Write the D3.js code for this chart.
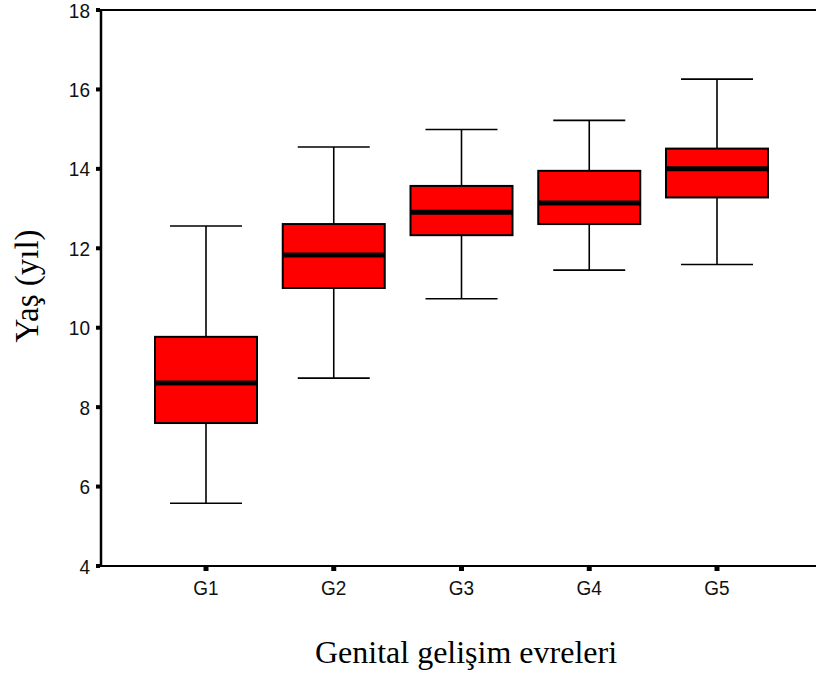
<!DOCTYPE html>
<html><head><meta charset="utf-8">
<script src="https://cdn.jsdelivr.net/npm/d3@7"></script>
<style>body{margin:0;background:#fff}svg{display:block}</style>
</head><body>
<script>
const categories = ["G1","G2","G3","G4","G5"];
const whiskerLow  = [5.58, 8.73, 10.73, 11.45, 11.59];
const q1          = [7.60, 11.00, 12.33, 12.61, 13.28];
const median      = [8.61, 11.83, 12.91, 13.14, 14.00];
const q3          = [9.77, 12.61, 13.57, 13.95, 14.51];
const whiskerHigh = [12.56, 14.55, 14.99, 15.22, 16.26];
const yTicks = [4, 6, 8, 10, 12, 14, 16, 18];

(function () {
const W = 816, H = 685;
const pLeft = 101, pRight = 816, pTop = 10, pBottom = 566;
const svg = d3.select("body").append("svg").attr("width", W).attr("height", H);

const y = d3.scaleLinear().domain([4, 18]).range([pBottom, pTop]);
const x = d3.scalePoint().domain(categories).range([206, 717]);

const data = categories.map((c, i) => ({c, lo: whiskerLow[i], q1: q1[i], med: median[i], q3: q3[i], hi: whiskerHigh[i]}));

// frame lines
svg.append("line").attr("x1", pLeft).attr("x2", pRight).attr("y1", pTop).attr("y2", pTop)
  .attr("stroke", "#000").attr("stroke-width", 1.8);
svg.append("line").attr("x1", pLeft).attr("x2", pLeft).attr("y1", pTop - 1).attr("y2", pBottom + 1)
  .attr("stroke", "#000").attr("stroke-width", 2.5);
svg.append("line").attr("x1", pLeft).attr("x2", pRight).attr("y1", pBottom).attr("y2", pBottom)
  .attr("stroke", "#000").attr("stroke-width", 2);

const tickFont = "Liberation Sans, Arial, sans-serif";
// y ticks
const yAx = svg.append("g");
yTicks.forEach(t => {
  yAx.append("rect").attr("x", pLeft - 5).attr("y", y(t) - 2).attr("width", 4).attr("height", 4).attr("fill", "#000");
  yAx.append("text").attr("transform", `translate(90,${y(t)}) scale(1,1.1)`).attr("dy", "0.36em")
    .attr("text-anchor", "end").attr("font-family", tickFont)
    .attr("font-size", 19).attr("fill", "#111").text(t);
});

// x ticks
const xAx = svg.append("g");
categories.forEach(c => {
  xAx.append("rect").attr("x", x(c) - 2.5).attr("y", pBottom + 1).attr("width", 5).attr("height", 4).attr("fill", "#000");
  xAx.append("text").attr("transform", `translate(${x(c)},595) scale(1,1.1)`)
    .attr("text-anchor", "middle").attr("font-family", tickFont)
    .attr("font-size", 19).attr("fill", "#111").text(c);
});

const boxW = 102, capW = 72;
const g = svg.append("g").selectAll("g").data(data).join("g");
// whiskers
g.append("line").attr("x1", d => x(d.c)).attr("x2", d => x(d.c))
  .attr("y1", d => y(d.hi)).attr("y2", d => y(d.q3)).attr("stroke", "#000").attr("stroke-width", 1.6);
g.append("line").attr("x1", d => x(d.c)).attr("x2", d => x(d.c))
  .attr("y1", d => y(d.q1)).attr("y2", d => y(d.lo)).attr("stroke", "#000").attr("stroke-width", 1.6);
g.append("line").attr("x1", d => x(d.c) - capW / 2).attr("x2", d => x(d.c) + capW / 2)
  .attr("y1", d => y(d.hi)).attr("y2", d => y(d.hi)).attr("stroke", "#000").attr("stroke-width", 1.6);
g.append("line").attr("x1", d => x(d.c) - capW / 2).attr("x2", d => x(d.c) + capW / 2)
  .attr("y1", d => y(d.lo)).attr("y2", d => y(d.lo)).attr("stroke", "#000").attr("stroke-width", 1.6);
// box
g.append("rect").attr("x", d => x(d.c) - boxW / 2).attr("width", boxW)
  .attr("y", d => y(d.q3)).attr("height", d => y(d.q1) - y(d.q3))
  .attr("fill", "#ff0000").attr("stroke", "#000").attr("stroke-width", 2);
// median
g.append("line").attr("x1", d => x(d.c) - boxW / 2).attr("x2", d => x(d.c) + boxW / 2)
  .attr("y1", d => y(d.med)).attr("y2", d => y(d.med)).attr("stroke", "#000").attr("stroke-width", 5);

// axis titles
svg.append("text").attr("transform", "translate(38,286) rotate(-90)")
  .attr("text-anchor", "middle").attr("font-family", "Liberation Serif, Times New Roman, serif")
  .attr("font-size", 33).attr("fill", "#000").text("Yaş (yıl)");
svg.append("text").attr("x", 466).attr("y", 663)
  .attr("text-anchor", "middle").attr("font-family", "Liberation Serif, Times New Roman, serif")
  .attr("font-size", 32).attr("fill", "#000").text("Genital gelişim evreleri");
})();
</script>
</body></html>
